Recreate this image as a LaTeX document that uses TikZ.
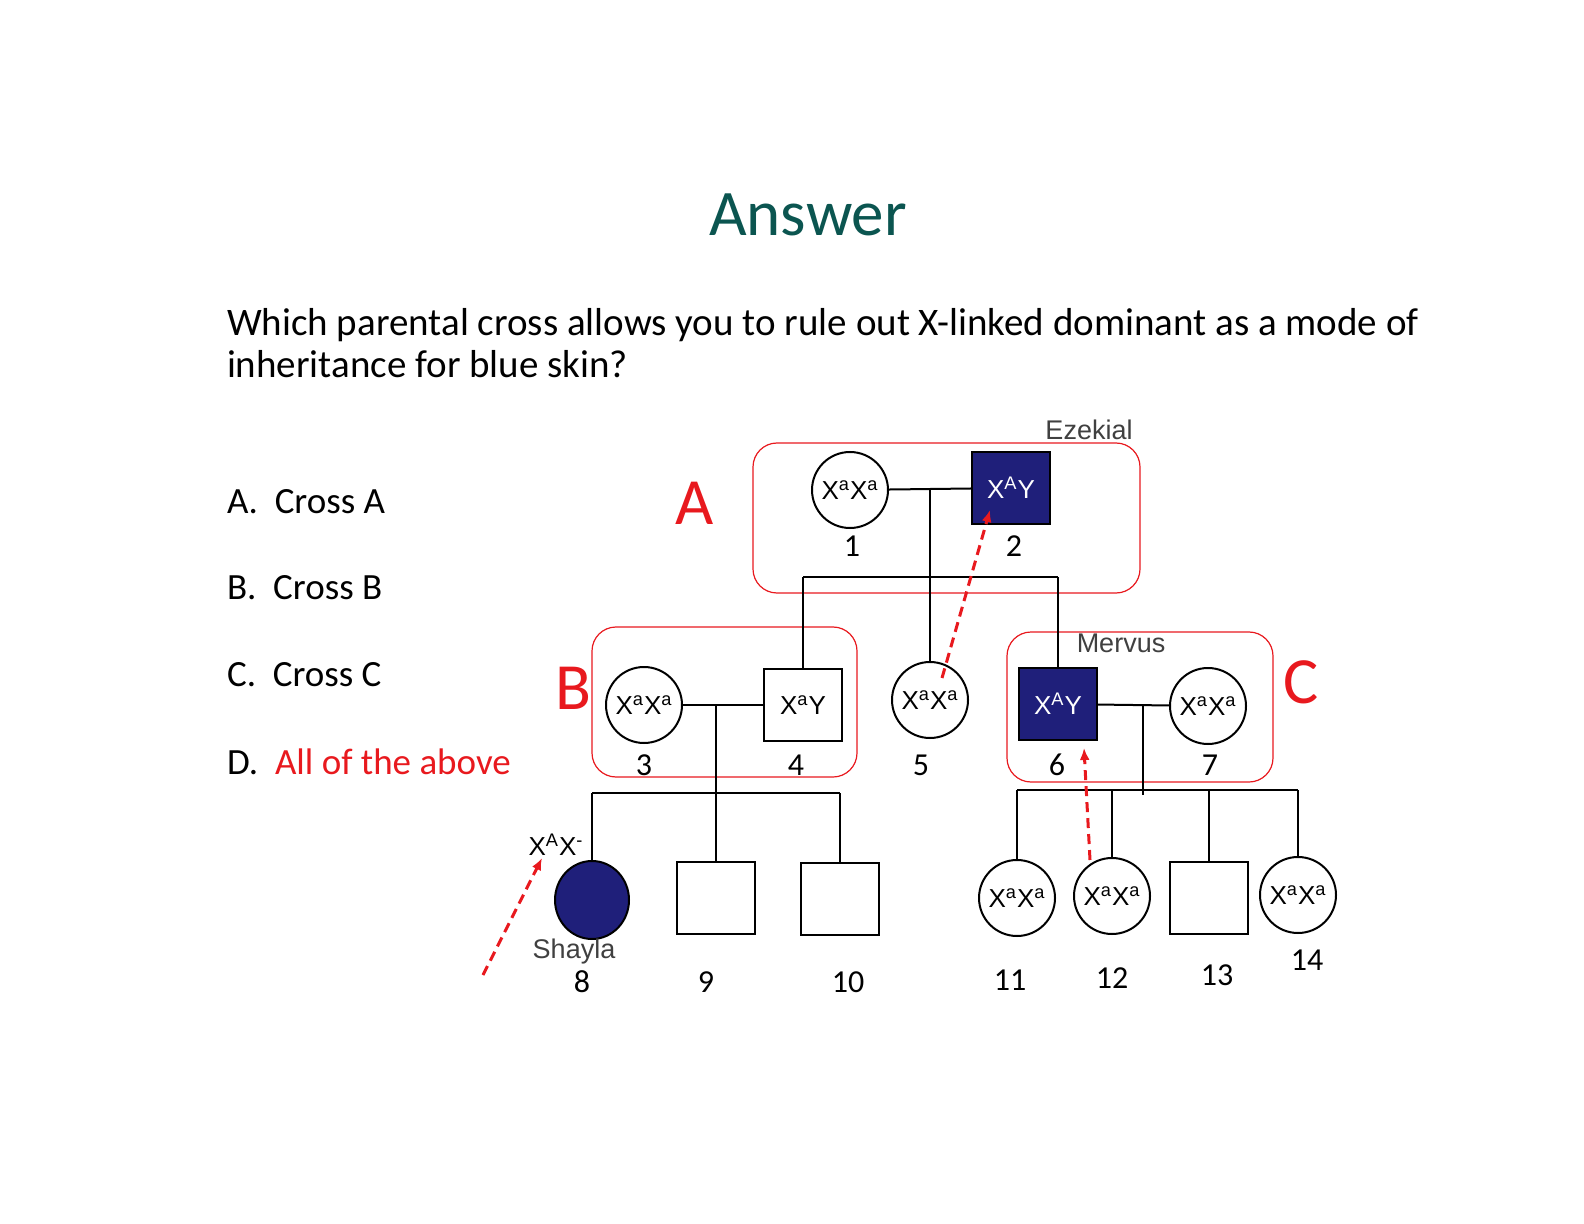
\documentclass[tikz,border=0pt]{standalone}
\usepackage{fontspec}
\usetikzlibrary{shapes.geometric,arrows.meta}
\setmainfont{Carlito}
\newfontfamily\arialf{Liberation Sans}
\definecolor{teal0}{HTML}{0B5550}
\definecolor{navy}{HTML}{1F1F7A}
\definecolor{redA}{HTML}{E8191E}
\newcommand\gt[2]{X\textsuperscript{#1}#2}
\begin{document}
\begin{tikzpicture}[x=0.5pt,y=-0.5pt,
 fem/.style={circle,draw,line width=1pt,minimum size=38pt,inner sep=0pt,font=\arialf\fontsize{13}{13}\selectfont},
 mal/.style={rectangle,draw,line width=1pt,minimum width=39pt,minimum height=36pt,inner sep=0pt,font=\arialf\fontsize{13}{13}\selectfont},
 aff/.style={fill=navy,text=white},
 ln/.style={line width=1pt},
 num/.style={font=\fontsize{16}{16}\selectfont},
 gray/.style={font=\arialf\fontsize{13.5}{13.5}\selectfont,text=black!75},
 crossbox/.style={draw=redA,line width=0.6pt,rounded corners=12pt},
 bigl/.style={text=redA,font=\fontsize{33}{33}\selectfont},
 redarr/.style={draw=redA,line width=1.5pt,dash pattern=on 5pt off 3pt,-{Latex[length=6pt,width=5pt]}}]
\useasboundingbox (0,0) rectangle (1584,1224);
\node[text=teal0,font=\fontsize{32.5}{32.5}\selectfont] (title) at (808,215) {Answer};
\node[anchor=west,align=left,font=\fontsize{19.5}{21}\selectfont] (q) at (220,343) {Which parental cross allows you to rule out X-linked dominant as a mode of\\inheritance for blue skin?};
\node[anchor=west,font=\fontsize{18.5}{18}\selectfont] (oa) at (220,502) {A.\ \ Cross A};
\node[anchor=west,font=\fontsize{18.5}{18}\selectfont] (ob) at (220,588) {B.\ \ Cross B};
\node[anchor=west,font=\fontsize{18.5}{18}\selectfont] (oc) at (220,675) {C.\ \ Cross C};
\node[anchor=west,font=\fontsize{18.5}{18}\selectfont] (od) at (220,762) {D.\ \ \textcolor{redA}{All of the above}};
% boxes
\draw[crossbox] (753,443) rectangle (1140,593);
\draw[crossbox] (592,627) rectangle (857,777);
\draw[crossbox] (1007,632) rectangle (1273,782);
\node[bigl] (lA) at (695,503) {A};
\node[bigl] (lB) at (573,688) {B};
\node[bigl] (lC) at (1301,682) {C};
\node[gray] (ez) at (1089,430) {Ezekial};
\node[gray] (me) at (1121,643) {Mervus};
% individuals
\node[fem] (p1) at (850,490) {\gt{a}{X\textsuperscript{a}}};
\node[mal,aff] (p2) at (1011,488) {\gt{A}{Y}};
\node[fem] (p3) at (644,705) {\gt{a}{X\textsuperscript{a}}};
\node[mal] (p4) at (803,705) {\gt{a}{Y}};
\node[fem] (p5) at (930,700) {\gt{a}{X\textsuperscript{a}}};
\node[mal,aff] (p6) at (1058,704) {\gt{A}{Y}};
\node[fem] (p7) at (1208,706) {\gt{a}{X\textsuperscript{a}}};
\node[ellipse,draw,line width=1pt,aff,minimum width=37pt,minimum height=39pt,inner sep=0pt] (p8) at (592,900) {};
\node[mal] (p9) at (716,898) {};
\node[mal] (p10) at (840,899) {};
\node[fem] (p11) at (1017,898) {\gt{a}{X\textsuperscript{a}}};
\node[fem] (p12) at (1112,896) {\gt{a}{X\textsuperscript{a}}};
\node[mal] (p13) at (1209,898) {};
\node[fem] (p14) at (1298,895) {\gt{a}{X\textsuperscript{a}}};
% numbers
\foreach \n/\x/\y in {1/852/546,2/1014/546,3/644/765,4/796/765,5/921/765,6/1057/765,7/1210/765,8/582/982,9/706/982,10/848/982,11/1010/980,12/1112/978,13/1217/975,14/1307/960}
  \node[num] (n\n) at (\x,\y) {\n};
\node[font=\arialf\fontsize{13.5}{13.5}\selectfont,text=black!75] (sh) at (574,952) {Shayla};
\node[font=\arialf\fontsize{13}{13}\selectfont] (g8) at (556,845) {X\textsuperscript{A}X\textsuperscript{-}};
% lines
\coordinate (m1) at (930,488);
\coordinate (m2) at (716,705);
\coordinate (m3) at (1143,704);
\coordinate (s1l) at (803,577); \coordinate (s1r) at (1058,577);
\coordinate (s2l) at (592,793); \coordinate (s2m) at (716,793); \coordinate (s2r) at (840,793);
\coordinate (s3l) at (1017,790); \coordinate (s3r) at (1298,790);
\draw[ln] (p1) -- (p2);
\draw[ln] (m1) -- (p5.north);
\draw[ln] (s1l) -- (s1r);
\draw[ln] (s1l) -- (p4.north);
\draw[ln] (s1r) -- (p6.north);
\draw[ln] (p3) -- (p4);
\draw[ln] (m2) -- (716,797);
\draw[ln] (s2l) -- (s2r);
\draw[ln] (s2l) -- (p8.north);
\draw[ln] (s2m) -- (p9.north);
\draw[ln] (s2r) -- (p10.north);
\draw[ln] (p6) -- (p7);
\draw[ln] (m3) -- (1143,795);
\draw[ln] (s3l) -- (s3r);
\draw[ln] (s3l) -- (p11.north);
\draw[ln] (p12.north |- s3l) -- (p12.north);
\draw[ln] (p13.north |- s3l) -- (p13.north);
\draw[ln] (s3r) -- (p14.north);
% red arrows
\coordinate (a1s) at (942,678); \coordinate (a1e) at (990,510);
\coordinate (a2s) at (1090,860); \coordinate (a2e) at (1084,748);
\coordinate (a3s) at (483,975); \coordinate (a3e) at (542,858);
\draw[redarr] (a1s) -- (a1e);
\draw[redarr] (a2s) -- (a2e);
\draw[redarr] (a3s) -- (a3e);
\end{tikzpicture}
\end{document}
